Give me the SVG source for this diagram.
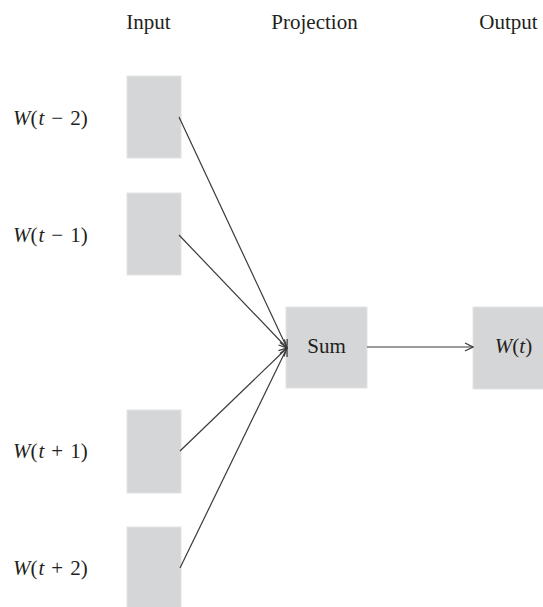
<svg xmlns="http://www.w3.org/2000/svg" width="543" height="607" viewBox="0 0 543 607">
  <style>
    .box { fill: #d5d6d8; stroke: #e2e3e4; stroke-width: 1; }
    .txt { font-family: "Liberation Serif", "DejaVu Serif", serif; font-size: 21px; fill: #231f20; }
    .it { font-style: italic; }
    .edge { stroke: #3a3a3a; stroke-width: 1.2; fill: none; marker-end: url(#chev); }
  </style>
  <defs>
    <marker id="chev" viewBox="0 0 10 10" refX="9" refY="5" markerWidth="10" markerHeight="10" markerUnits="userSpaceOnUse" orient="auto">
      <path d="M1,1 L9,5 L1,9" fill="none" stroke="#3a3a3a" stroke-width="1.2"/>
    </marker>
  </defs>
  <rect width="543" height="607" fill="#ffffff"/>

  <!-- column headings -->
  <g id="headings">
    <text class="txt" x="148.5" y="29" text-anchor="middle">Input</text>
    <text class="txt" x="314.5" y="29" text-anchor="middle">Projection</text>
    <text class="txt" x="508.5" y="29" text-anchor="middle">Output</text>
  </g>

  <!-- context word inputs -->
  <g id="in-t-2">
    <rect class="box" x="127" y="76" width="54" height="82"/>
    <text class="txt" x="13" y="125"><tspan class="it">W</tspan>(<tspan class="it" dx="1">t</tspan><tspan dx="7">−</tspan><tspan dx="7">2)</tspan></text>
  </g>
  <g id="in-t-1">
    <rect class="box" x="127" y="193" width="54" height="82"/>
    <text class="txt" x="13" y="242"><tspan class="it">W</tspan>(<tspan class="it" dx="1">t</tspan><tspan dx="7">−</tspan><tspan dx="7">1)</tspan></text>
  </g>
  <g id="in-t+1">
    <rect class="box" x="127" y="410" width="54" height="83"/>
    <text class="txt" x="13" y="458"><tspan class="it">W</tspan>(<tspan class="it" dx="1">t</tspan><tspan dx="7">+</tspan><tspan dx="7">1)</tspan></text>
  </g>
  <g id="in-t+2">
    <rect class="box" x="127" y="527" width="54" height="82"/>
    <text class="txt" x="13" y="575"><tspan class="it">W</tspan>(<tspan class="it" dx="1">t</tspan><tspan dx="7">+</tspan><tspan dx="7">2)</tspan></text>
  </g>

  <!-- projection layer -->
  <g id="sum">
    <rect class="box" x="286" y="307" width="81" height="81"/>
    <text class="txt" x="326.5" y="353" text-anchor="middle">Sum</text>
  </g>

  <!-- output word -->
  <g id="out">
    <rect class="box" x="473" y="307" width="80" height="82"/>
    <text class="txt" x="513.5" y="353" text-anchor="middle"><tspan class="it">W</tspan>(<tspan class="it">t</tspan>)</text>
  </g>

  <!-- connectors -->
  <g id="connectors">
    <line class="edge" x1="179" y1="117" x2="287" y2="348"/>
    <line class="edge" x1="179" y1="235" x2="287" y2="348"/>
    <line class="edge" x1="180" y1="451" x2="287" y2="348"/>
    <line class="edge" x1="180" y1="568" x2="287" y2="348"/>
    <line class="edge" x1="367" y1="347" x2="473" y2="347"/>
  </g>
</svg>
